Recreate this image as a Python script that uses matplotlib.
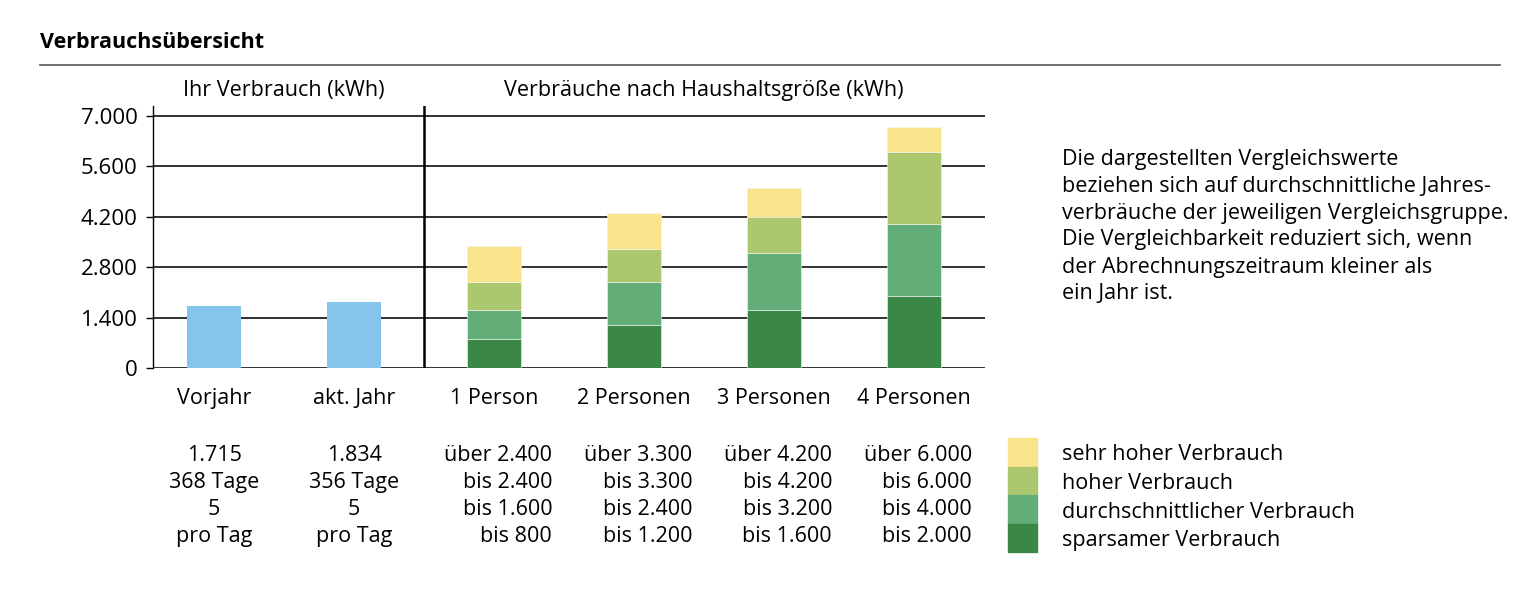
import numpy as np
import matplotlib
matplotlib.use("Agg")
import matplotlib.pyplot as plt

plt.rcParams['font.family'] = ['Open Sans', 'DejaVu Sans']

# ---------------------------------------------------------
# Daten
# ---------------------------------------------------------
eigene_kategorien = ['Vorjahr', 'akt. Jahr']
eigene_werte = [1715, 1834]
eigene_details = [['1.715', '368 Tage', '5', 'pro Tag'],
                  ['1.834', '356 Tage', '5', 'pro Tag']]

haushalt_kategorien = ['1 Person', '2 Personen', '3 Personen', '4 Personen']
sparsam = [800, 1200, 1600, 2000]
durchschnitt = [1600, 2400, 3200, 4000]
hoch = [2400, 3300, 4200, 6000]
sehr_hoch = [3400, 4300, 5000, 6700]

stufen_namen = ['sehr hoher Verbrauch', 'hoher Verbrauch',
                'durchschnittlicher Verbrauch', 'sparsamer Verbrauch']

y_ticks = [0, 1400, 2800, 4200, 5600, 7000]
y_labels = ['0', '1.400', '2.800', '4.200', '5.600', '7.000']

hinweis = ["Die dargestellten Vergleichswerte",
           "beziehen sich auf durchschnittliche Jahres-",
           "verbräuche der jeweiligen Vergleichsgruppe.",
           "Die Vergleichbarkeit reduziert sich, wenn",
           "der Abrechnungszeitraum kleiner als",
           "ein Jahr ist."]

# Farben
BLAU = '#86C5EB'
GELB = '#F9E38B'
HELLGRUEN = '#ABC86E'
MITTELGRUEN = '#62AD78'
DUNKELGRUEN = '#3B8745'

FS = 15.5


def fmt(v):
    return f"{v:,}".replace(",", ".")


# ---------------------------------------------------------
# Figur
# ---------------------------------------------------------
W, H = 1538, 607
fig = plt.figure(figsize=(W / 100, H / 100), dpi=100)

x0, x1, y0, y1 = 153, 985, 368, 106
ax = fig.add_axes([x0 / W, 1 - y0 / H, (x1 - x0) / W, (y0 - y1) / H])

x_eigen = np.arange(len(eigene_kategorien))
x_haus = np.arange(len(haushalt_kategorien)) + len(eigene_kategorien)
breite = 0.39

ax.bar(x_eigen, eigene_werte, breite, color=BLAU, zorder=3)

unten = np.zeros(len(haushalt_kategorien))
stufen = [sparsam, durchschnitt, hoch, sehr_hoch]
farben = [DUNKELGRUEN, MITTELGRUEN, HELLGRUEN, GELB]
for werte, farbe in zip(stufen, farben):
    hoehe = np.array(werte) - unten
    ax.bar(x_haus, hoehe, breite, bottom=unten, color=farbe, zorder=3,
           edgecolor='#f4f4f4', linewidth=0.4)
    unten = np.array(werte, dtype=float)

ax.set_xlim(-0.436, 5.507)
ax.set_ylim(0, 7000 * (y0 - y1) / 252)
ax.set_yticks(y_ticks)
ax.set_yticklabels(y_labels, fontsize=16)
ax.set_xticks([])
for y in y_ticks:
    ax.axhline(y, color='#222222', linewidth=1.3, zorder=1)
ax.axvline(1.5, color='black', linewidth=1.8, zorder=4)

for s in ['top', 'right', 'bottom']:
    ax.spines[s].set_visible(False)
ax.spines['left'].set_linewidth(1.0)
ax.tick_params(axis='y', length=5, width=1.0, pad=6, colors='black')

# Kategorien unter den Balken
alle_kat = eigene_kategorien + haushalt_kategorien
for i, k in enumerate(alle_kat):
    ax.text(i, -840, k, ha='center', va='center', fontsize=FS)

# Gruppentitel
ax.text(0.5, 7700, 'Ihr Verbrauch (kWh)', ha='center', va='center', fontsize=FS)
ax.text(3.5, 7700, 'Verbräuche nach Haushaltsgröße (kWh)', ha='center',
        va='center', fontsize=FS)

# Detailzeilen
zeilen_y = [-2440, -3190, -3940, -4690]
for i, det in enumerate(eigene_details):
    for zy, t in zip(zeilen_y, det):
        ax.text(x_eigen[i], zy, t, ha='center', va='center', fontsize=FS,
                clip_on=False)

for i in range(len(haushalt_kategorien)):
    texte = ['über ' + fmt(hoch[i]), 'bis ' + fmt(hoch[i]),
             'bis ' + fmt(durchschnitt[i]), 'bis ' + fmt(sparsam[i])]
    for zy, t in zip(zeilen_y, texte):
        ax.text(x_haus[i] + 0.415, zy, t, ha='right', va='center',
                fontsize=FS, clip_on=False)

# Legende
leg_farben = [GELB, HELLGRUEN, MITTELGRUEN, DUNKELGRUEN]
for j, (name, farbe) in enumerate(zip(stufen_namen, leg_farben)):
    top = 438 + j * 28.5
    fig.patches.append(plt.Rectangle((1008 / W, 1 - (top + 28.5) / H),
                                     29 / W, 28.5 / H, color=farbe,
                                     transform=fig.transFigure))
    fig.text(1062 / W, 1 - (top + 17) / H, name, ha='left', va='center',
             fontsize=FS)

# Hinweistext
for k, zeile in enumerate(hinweis):
    fig.text(1062 / W, 1 - (159 + 27 * k) / H, zeile, ha='left', va='center',
             fontsize=FS)

# Titel und Linie
fig.text(40 / W, 1 - 42 / H, 'Verbrauchsübersicht', ha='left', va='center',
         fontsize=15.5, fontweight='bold')
fig.add_artist(plt.Line2D([40 / W, 1500 / W], [1 - 65 / H, 1 - 65 / H],
                          color='#555555', linewidth=1.2,
                          transform=fig.transFigure))

fig.savefig('out.png', dpi=100)
